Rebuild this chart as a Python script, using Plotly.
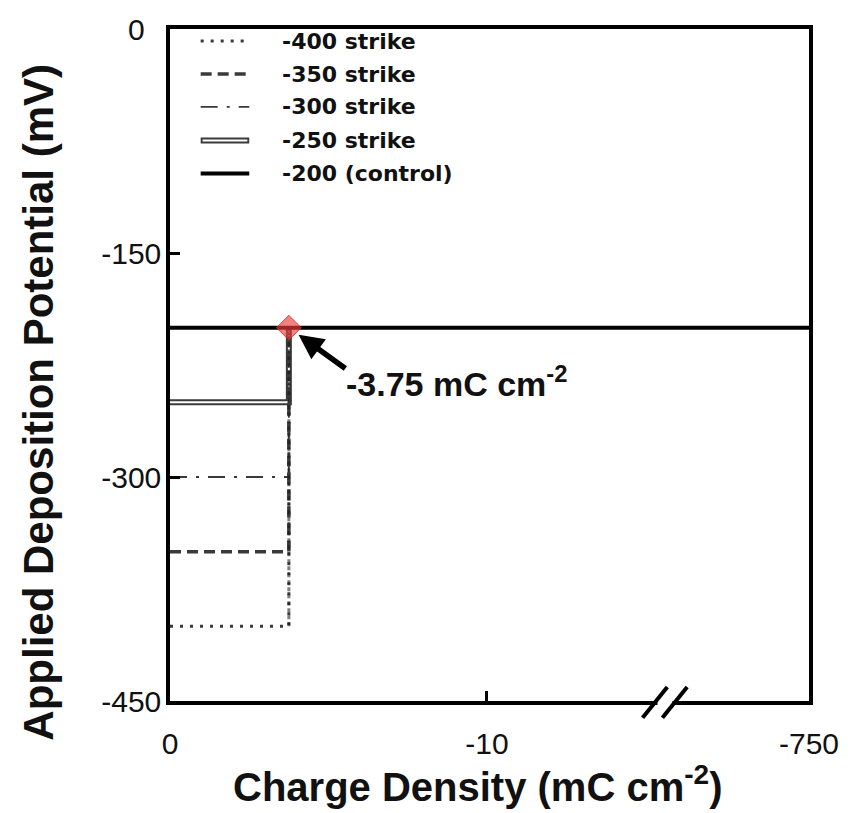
import plotly.graph_objects as go

# ---------------- data ----------------
series_names = ["-400 strike", "-350 strike", "-300 strike", "-250 strike", "-200 (control)"]
strike_potentials = [-400, -350, -300, -250]          # mV
control_potential = -200                              # mV
switch_charge = -3.75                                 # mC cm-2
end_charge = -750                                     # mC cm-2
x_tick_values = [0, -10, -750]
x_tick_labels = ["0", "-10", "-750"]
y_tick_values = [0, -150, -300, -450]
y_tick_labels = ["0\u00a0\u00a0", "-150", "-300", "-450"]

# ---------------- broken x scale ----------------
BREAK_AT = 10.0
END_U = 2.016


def to_u(q):
    a = abs(q)
    if a <= BREAK_AT:
        return a / BREAK_AT
    return 1 + (a - BREAK_AT) / (abs(end_charge) - BREAK_AT) * (END_U - 1)


TICK_FONT = dict(family="Liberation Sans, Arial", size=30, color="#111111")
BOLD = dict(family="Liberation Sans, Arial", weight="bold", color="#111111")
LEG_FONT = dict(family="DejaVu Sans", weight="bold", size=22, color="#111111")

styles = {
    "-400 strike": dict(color="#3a3a3a", width=3, dash="3px,7px"),
    "-350 strike": dict(color="#3a3a3a", width=3.5, dash="11px,6px"),
    "-300 strike": dict(color="#3a3a3a", width=1.8, dash="17px,9px,3px,9px"),
    "-250 strike": dict(color="#3a3a3a", width=6),
    "-200 (control)": dict(color="black", width=4),
}

fig = go.Figure()

u_sw = to_u(switch_charge)

# -250 strike (double line: dark outer, white inner)
v250 = strike_potentials[3]
xs = [to_u(0), u_sw, u_sw]
ys = [v250, v250, control_potential]
fig.add_trace(go.Scatter(x=xs, y=ys, mode="lines", line=styles["-250 strike"],
                         name=series_names[3], showlegend=False, hoverinfo="skip"))
fig.add_trace(go.Scatter(x=xs, y=ys, mode="lines", line=dict(color="white", width=2),
                         showlegend=False, hoverinfo="skip"))

for name, v in zip(series_names[:3], strike_potentials[:3]):
    fig.add_trace(go.Scatter(
        x=[to_u(0), u_sw, u_sw], y=[v, v, control_potential], mode="lines",
        line=styles[name], name=name, showlegend=False))

# common vertical rise (dark) at the switch charge
fig.add_trace(go.Scatter(
    x=[u_sw, u_sw], y=[min(strike_potentials), control_potential], mode="lines",
    line=dict(color="rgba(20,20,20,0.55)", width=3, dash="4px,3px"),
    showlegend=False, hoverinfo="skip"))

fig.add_trace(go.Scatter(
    x=[to_u(0), to_u(end_charge)], y=[control_potential, control_potential],
    mode="lines", line=styles["-200 (control)"], name=series_names[4], showlegend=False))

# switch point marker
fig.add_trace(go.Scatter(
    x=[u_sw], y=[control_potential], mode="markers",
    marker=dict(symbol="diamond", size=19, color="rgba(240,60,60,0.65)",
                line=dict(color="rgba(215,40,40,0.8)", width=1)),
    showlegend=False, hoverinfo="skip"))

# ---------------- manual legend ----------------
shapes = []
annotations = []
row_y = [0.982, 0.933, 0.884, 0.834, 0.785]
lx0, lx1, ltx = 0.048, 0.124, 0.172
for name, yy in zip(series_names, row_y):
    st = styles[name]
    shapes.append(dict(type="line", xref="paper", yref="paper", x0=lx0, x1=lx1, y0=yy, y1=yy,
                       line=dict(color=st["color"], width=st["width"], dash=st.get("dash", "solid"))))
    if name == "-250 strike":
        shapes.append(dict(type="line", xref="paper", yref="paper", x0=lx0 + 0.003, x1=lx1 - 0.003,
                           y0=yy, y1=yy, line=dict(color="white", width=2)))
    annotations.append(dict(xref="paper", yref="paper", x=ltx, y=yy, text=name, showarrow=False,
                            xanchor="left", yanchor="middle", font=LEG_FONT))

# ---------------- axis break mark ----------------
bo = 0.016
shapes.append(dict(type="rect", xref="x", yref="paper", x0=1.522 + bo, x1=1.569 + bo, y0=-0.008, y1=0.008,
                   line=dict(width=0), fillcolor="white", layer="above"))
for ua, ub in [(1.475, 1.553), (1.5375, 1.6156)]:
    shapes.append(dict(type="line", xref="x", yref="paper", x0=ua + bo, x1=ub + bo, y0=-0.0251, y1=0.0207,
                       line=dict(color="black", width=4), layer="above"))

# ---------------- annotations ----------------
annotations.append(dict(x=u_sw, y=control_potential, xref="x", yref="y", text="",
                        showarrow=True, arrowhead=2, arrowsize=0.9, arrowwidth=5.5,
                        arrowcolor="black", ax=58, ay=42, standoff=12))
annotations.append(dict(x=0.55, y=-236, xref="x", yref="y",
                        text="-3.75 mC cm<sup>-2</sup>", showarrow=False,
                        xanchor="left", yanchor="middle", font=dict(BOLD, size=34)))
annotations.append(dict(x=-0.205, y=0.444, xref="paper", yref="paper", textangle=-90,
                        text="Applied Deposition Potential (mV)", showarrow=False,
                        xanchor="center", yanchor="middle", font=dict(BOLD, size=42)))
annotations.append(dict(x=0.481, y=-0.124, xref="paper", yref="paper",
                        text="Charge Density (mC cm<sup>-2</sup>)", showarrow=False,
                        xanchor="center", yanchor="middle", font=dict(BOLD, size=40)))

fig.update_layout(
    width=851, height=813,
    margin=dict(l=170, r=38, t=25, b=112),
    plot_bgcolor="white", paper_bgcolor="white",
    shapes=shapes, annotations=annotations,
    showlegend=False,
)
fig.update_xaxes(
    range=[0, END_U], tickvals=[to_u(v) for v in x_tick_values], ticktext=x_tick_labels,
    showgrid=False, zeroline=False, showline=True, mirror=True, linecolor="black", linewidth=3.5,
    ticks="inside", ticklen=10, tickwidth=3, tickcolor="black",
    tickfont=TICK_FONT, ticklabelstandoff=13,
)
fig.update_yaxes(
    range=[-450, 0], tickvals=y_tick_values, ticktext=y_tick_labels,
    showgrid=False, zeroline=False, showline=True, mirror=True, linecolor="black", linewidth=3.5,
    ticks="inside", ticklen=10, tickwidth=3, tickcolor="black",
    tickfont=TICK_FONT, ticklabelstandoff=-1,
)

fig.write_html("out.html")
